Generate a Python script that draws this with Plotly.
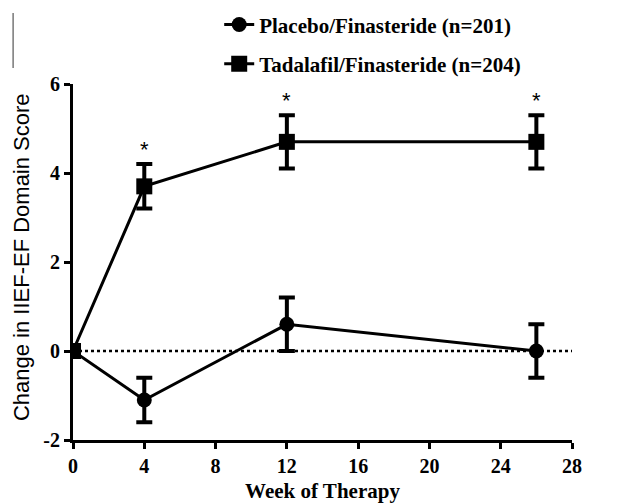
import plotly.graph_objects as go

weeks = [0, 4, 12, 26]
placebo = [0, -1.1, 0.6, 0.0]
placebo_err = [0, 0.5, 0.6, 0.6]
tadalafil = [0, 3.7, 4.7, 4.7]
tadalafil_err = [0, 0.5, 0.6, 0.6]
signif = [False, True, True, True]
names = ["Placebo/Finasteride (n=201)", "Tadalafil/Finasteride (n=204)"]
x_ticks = [0, 4, 8, 12, 16, 20, 24, 28]
y_ticks = [-2, 0, 2, 4, 6]
y_tick_text = ["-2", "0", "2", "4", "6"]
y_title = "Change in IIEF-EF Domain Score"
x_title = "Week of Therapy"

serif = "Times New Roman, Liberation Serif, serif"
sans = "Arial, Liberation Sans, sans-serif"
fig = go.Figure()

# zero reference line
fig.add_trace(go.Scatter(x=[0, 28], y=[0, 0], mode="lines",
                         line=dict(color="black", width=2.5, dash="dot"),
                         showlegend=False, hoverinfo="skip"))

fig.add_trace(go.Scatter(
    x=weeks, y=placebo, name=names[0], mode="lines+markers",
    line=dict(color="black", width=3),
    marker=dict(symbol="circle", size=15, color="black"),
    error_y=dict(type="data", array=placebo_err, color="black", thickness=4, width=8),
    legend="legend"))

fig.add_trace(go.Scatter(
    x=weeks, y=tadalafil, name=names[1], mode="lines+markers",
    line=dict(color="black", width=3),
    marker=dict(symbol="square", size=16, color="black"),
    error_y=dict(type="data", array=tadalafil_err, color="black", thickness=4, width=8),
    legend="legend2"))

for w, v, e, s in zip(weeks, tadalafil, tadalafil_err, signif):
    if s:
        fig.add_annotation(x=w, y=v + e, text="*", showarrow=False, yshift=15,
                           font=dict(family=sans, size=22, color="black"))

# y-axis title as rotated annotation (positioned like the reference)
fig.add_annotation(xref="paper", yref="paper", x=-0.104, y=0.514, text=y_title,
                   textangle=-90, showarrow=False, xanchor="center", yanchor="middle",
                   font=dict(family=sans, size=22, color="black"))

# thin grey border artifact at top-left
fig.add_shape(type="line", xref="paper", yref="paper", x0=-0.12, x1=-0.12,
              y0=(440 - 13) / 356, y1=(440 - 68) / 356,
              line=dict(color="#777777", width=1.5))

legend_font = dict(family=serif, size=21, color="black", weight="bold")
fig.update_layout(
    width=612, height=496,
    margin=dict(l=65, r=48, t=76, b=64, autoexpand=False),
    paper_bgcolor="white", plot_bgcolor="white",
    font=dict(family=serif, color="black"),
    legend=dict(x=0.293, y=1.166, xanchor="left", yanchor="middle",
                font=legend_font, bgcolor="rgba(0,0,0,0)", itemwidth=30),
    legend2=dict(x=0.293, y=1.056, xanchor="left", yanchor="middle",
                 font=legend_font, bgcolor="rgba(0,0,0,0)", itemwidth=30),
    xaxis=dict(range=[0, 28], tickvals=x_ticks, showline=True, linecolor="black",
               linewidth=3, ticks="outside", ticklen=6, tickwidth=3, tickcolor="black",
               showgrid=False, zeroline=False,
               tickfont=dict(family=serif, size=20, color="black", weight="bold"),
               title=dict(text=x_title, standoff=8,
                          font=dict(family=serif, size=21, color="black", weight="bold"))),
    yaxis=dict(range=[-2, 6], tickvals=y_ticks, ticktext=y_tick_text, showline=True,
               linecolor="black", linewidth=3, ticks="outside", ticklen=6, tickwidth=3,
               tickcolor="black", showgrid=False, zeroline=False,
               tickfont=dict(family=serif, size=20, color="black", weight="bold")),
)

fig.write_html("out.html")
